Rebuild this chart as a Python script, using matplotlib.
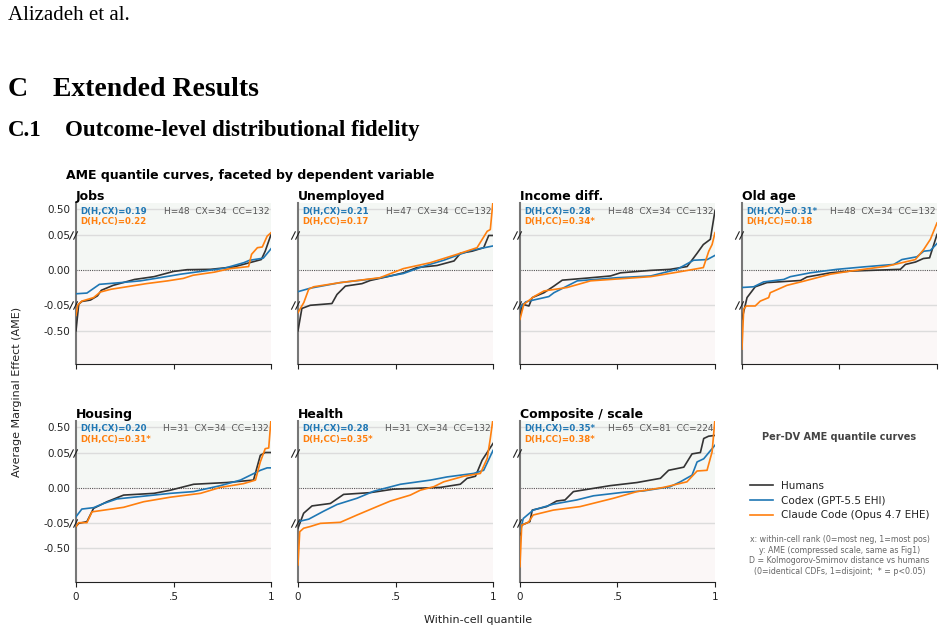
import numpy as np
import matplotlib
matplotlib.use("Agg")
import matplotlib.pyplot as plt
from matplotlib.path import Path
from matplotlib.lines import Line2D

# panel info
panels = ["Jobs", "Unemployed", "Income diff.", "Old age", "Housing", "Health", "Composite / scale"]
n_h = [48, 47, 48, 48, 31, 31, 65]
n_cx = [34, 34, 34, 34, 34, 34, 81]
n_cc = [132, 132, 132, 132, 132, 132, 224]
d_cx = ["0.19", "0.21", "0.28", "0.31*", "0.20", "0.28", "0.35*"]
d_cc = ["0.22", "0.17", "0.34*", "0.18", "0.31*", "0.35*", "0.38*"]

# quantile curves: (quantile, AME)
jobs_h = ([0, .014, .03, .074, .11, .13, .19, .30, .40, .50, .57, .69, .81, .89, .95, .97, 1],
          [-.5, -.049, -.045, -.043, -.037, -.029, -.022, -.0135, -.0095, -.002, .0005, .001, .0045, .0105, .015, .027, .062])
jobs_cx = ([0, .056, .12, .23, .33, .43, .535, .64, .76, .86, .89, .96, 1],
           [-.034, -.033, -.0205, -.018, -.0155, -.011, -.006, -.002, .0025, .0105, .014, .017, .0305])
jobs_cc = ([0, .009, .03, .09, .125, .18, .26, .36, .47, .55, .60, .71, .79, .885, .90, .93, .955, .98, 1],
           [-.232, -.052, -.0445, -.0395, -.0315, -.0275, -.024, -.0195, -.0155, -.012, -.0075, -.003, .002, .005, .0225, .032, .033, .0485, .093])

unemp_h = ([0, .02, .063, .174, .20, .243, .328, .37, .474, .54, .61, .713, .80, .833, .893, .952, .978, 1],
           [-.5, -.111, -.056, -.048, -.035, -.023, -.0195, -.015, -.0085, -.004, .0035, .0065, .013, .024, .027, .032, .0495, .0495])
unemp_cx = ([0, .063, .217, .405, .54, .645, .747, .884, 1],
            [-.031, -.026, -.018, -.012, -.005, .0055, .014, .028, .0345])
unemp_cc = ([0, .03, .055, .08, .217, .42, .54, .678, .815, .918, .97, .986, 1],
            [-.184, -.0465, -.0275, -.024, -.018, -.011, .002, .0105, .0225, .032, .117, .147, .65])

income_h = ([0, .012, .046, .063, .123, .174, .217, .345, .464, .515, .67, .77, .857, .908, .94, .976, 1],
            [-.269, -.049, -.068, -.0395, -.0325, -.023, -.0145, -.0115, -.0085, -.004, -.0005, .001, .005, .024, .0365, .044, .48])
income_cx = ([0, .03, .148, .174, .294, .498, .67, .805, .89, .96, 1],
             [-.099, -.0455, -.038, -.0325, -.0155, -.011, -.0085, .001, .014, .015, .021])
income_cc = ([0, .02, .072, .123, .242, .362, .67, .84, .94, .968, .985, 1],
             [-.30, -.049, -.038, -.030, -.025, -.0155, -.0095, -.0015, .0035, .027, .0365, .093])

oldage_h = ([0, .026, .068, .128, .30, .333, .453, .556, .812, .838, .89, .93, .962, 1],
            [-.30, -.0395, -.024, -.018, -.015, -.010, -.004, -.0015, .001, .008, .0115, .0165, .0175, .062])
oldage_cx = ([0, .06, .111, .214, .248, .35, .487, .624, .778, .82, .897, .932, .966, 1],
             [-.025, -.024, -.017, -.0135, -.0095, -.004, .001, .0045, .008, .015, .019, .027, .028, .038])
oldage_cc = ([0, .009, .022, .068, .094, .137, .145, .23, .316, .453, .556, .744, .889, .932, .966, 1],
             [-.82, -.123, -.068, -.068, -.0445, -.0395, -.0325, -.022, -.016, -.006, -.0015, .0055, .015, .0295, .044, .263])

housing_h = ([0, .014, .056, .09, .159, .244, .40, .484, .603, .774, .91, .945, .97, 1],
             [-.117, -.062, -.0485, -.0295, -.020, -.0105, -.008, -.0035, .005, .0075, .011, .0465, .056, .056])
housing_cx = ([0, .03, .09, .142, .21, .40, .484, .603, .74, .843, .945, .98, 1],
              [-.0415, -.0305, -.0285, -.0225, -.016, -.0105, -.008, -.0055, .003, .011, .025, .0285, .0285])
housing_cc = ([0, .014, .056, .082, .244, .347, .484, .638, .74, .86, .92, .945, .97, .988, 1],
              [-.117, -.050, -.050, -.0345, -.028, -.020, -.0135, -.008, .0005, .006, .011, .037, .123, .135, .65])

health_h = ([0, .029, .072, .166, .234, .37, .49, .73, .832, .867, .91, .944, 1],
            [-.147, -.0365, -.026, -.0225, -.0095, -.007, -.002, .0005, .005, .0135, .0165, .0395, .214])
health_cx = ([0, .055, .132, .20, .303, .388, .525, .68, .764, .90, .952, 1],
             [-.0485, -.045, -.0335, -.024, -.015, -.005, .005, .011, .0155, .0205, .025, .093])
health_cc = ([0, .009, .029, .063, .115, .217, .303, .405, .474, .576, .627, .696, .747, .85, .935, .97, .986, 1],
             [-.786, -.208, -.147, -.117, -.062, -.0495, -.039, -.027, -.019, -.0105, -.0035, .0015, .0085, .0165, .0205, .042, .30, .65])

comp_h = ([0, .009, .051, .063, .137, .188, .231, .274, .462, .60, .72, .762, .84, .882, .925, .942, .967, 1],
          [-.263, -.093, -.0485, -.032, -.027, -.019, -.0175, -.0055, .003, .0075, .0135, .025, .0295, .0485, .056, .30, .34, .354])
comp_cx = ([0, .017, .068, .171, .29, .377, .53, .634, .77, .822, .882, .908, .942, .967, 1],
           [-.208, -.044, -.032, -.0235, -.0175, -.0115, -.0065, -.0045, .0015, .0085, .018, .037, .0415, .05, .184])
comp_cc = ([0, .009, .043, .068, .171, .308, .394, .48, .60, .736, .856, .908, .959, .985, 1],
           [-.816, -.093, -.0495, -.039, -.032, -.027, -.021, -.015, -.0055, .0005, .0085, .024, .025, .068, .65])

curves = [(jobs_h, jobs_cx, jobs_cc), (unemp_h, unemp_cx, unemp_cc), (income_h, income_cx, income_cc),
          (oldage_h, oldage_cx, oldage_cc), (housing_h, housing_cx, housing_cc),
          (health_h, health_cx, health_cc), (comp_h, comp_cx, comp_cc)]

series_names = ["Humans", "Codex (GPT-5.5 EHI)", "Claude Code (Opus 4.7 EHE)"]
colors = ["#333333", "#1f77b4", "#ff7f0e"]

# compressed y scale: linear inside +-0.05, squeezed outside
K = 0.74 / 0.45


def fwd(y):
    y = np.asarray(y, dtype=float)
    a = np.abs(y)
    return np.where(a <= 0.05, y / 0.05, np.sign(y) * (1 + (a - 0.05) * K))


def inv(t):
    t = np.asarray(t, dtype=float)
    a = np.abs(t)
    return np.where(a <= 1, t * 0.05, np.sign(t) * (0.05 + (a - 1) / K))


yticks = [-0.5, -0.05, 0, 0.05, 0.5]
ylabels = ["-0.50", "-0.05", "0.00", "0.05", "0.50"]
ylo, yhi = float(inv(-2.70)), float(inv(1.92))

brk = Path([(-1, -1), (0, 1), (0, -1), (1, 1)],
           [Path.MOVETO, Path.LINETO, Path.MOVETO, Path.LINETO])

fig, axes = plt.subplots(2, 4, figsize=(9.44, 6.34), dpi=100, sharex=True, sharey=True)
fig.subplots_adjust(left=0.0805, right=0.9926, top=0.6798, bottom=0.082, wspace=0.138, hspace=0.35)

for i, ax in enumerate(axes.flat):
    if i == 7:
        continue
    ax.set_yscale("function", functions=(fwd, inv))
    ax.set_ylim(ylo, yhi)
    ax.set_xlim(0, 1)
    ax.axhspan(0, yhi, color="#f4f7f4", zorder=0, lw=0)
    ax.axhspan(ylo, 0, color="#fbf7f7", zorder=0, lw=0)
    for v in [-0.5, -0.05, 0.05, 0.5]:
        ax.axhline(v, color="#dcdcdc", lw=1.0, zorder=1)
    ax.axhline(0, color="#555555", lw=0.8, ls=(0, (1, 1)), zorder=2)
    for (q, ame), c in zip(curves[i], colors):
        ax.plot(q, ame, color=c, lw=1.2, zorder=3)
    ax.plot([-0.015, -0.015], [-0.05, 0.05], ls="none", marker=brk, ms=6, mec="#222222", mew=0.8,
            transform=ax.get_yaxis_transform(), clip_on=False, zorder=5)
    ax.set_title(panels[i], loc="left", fontsize=9, fontweight="bold", pad=2)
    ax.text(0.02, 0.95, "D(H,CX)=" + d_cx[i], transform=ax.transAxes, color=colors[1],
            fontsize=6.2, fontweight="bold", va="center", ha="left")
    ax.text(0.02, 0.883, "D(H,CC)=" + d_cc[i], transform=ax.transAxes, color=colors[2],
            fontsize=6.2, fontweight="bold", va="center", ha="left")
    ax.text(0.99, 0.95, f"H={n_h[i]}  CX={n_cx[i]}  CC={n_cc[i]}", transform=ax.transAxes,
            color="#555555", fontsize=6.5, va="center", ha="right")
    for s in ["top", "right"]:
        ax.spines[s].set_visible(False)
    ax.spines["left"].set_color("#777777")
    ax.spines["left"].set_linewidth(1.5)
    ax.spines["bottom"].set_color("#222222")
    ax.set_yticks(yticks)
    ax.set_yticklabels(ylabels)
    ax.minorticks_off()
    ax.set_xticks([0, 0.5, 1])
    ax.set_xticklabels(["0", ".5", "1"])
    ax.tick_params(axis="y", length=0, pad=4, labelsize=7.5, colors="#222222")
    ax.tick_params(axis="x", length=3.5, labelsize=7.5, colors="#222222")
    ax.label_outer()

# legend cell
lax = axes[1, 3]
lax.axis("off")
lax.text(0.5, 0.90, "Per-DV AME quantile curves", transform=lax.transAxes, ha="center", va="center",
         fontsize=7, fontweight="bold", color="#444444")
handles = [Line2D([], [], color=c, lw=1.2) for c in colors]
lax.legend(handles, series_names, loc="center", bbox_to_anchor=(0.5, 0.505), frameon=False,
           fontsize=7.5, handlelength=2.2, labelspacing=0.45, labelcolor="#222222")
lax.text(0.5, 0.165, "x: within-cell rank (0=most neg, 1=most pos)\n"
                     "y: AME (compressed scale, same as Fig1)\n"
                     "D = Kolmogorov-Smirnov distance vs humans\n"
                     "(0=identical CDFs, 1=disjoint;  * = p<0.05)",
         transform=lax.transAxes, ha="center", va="center", fontsize=5.7, color="#666666", linespacing=1.2)

fig.text(66 / 944, 1 - 175 / 634, "AME quantile curves, faceted by dependent variable",
         fontsize=9, fontweight="bold", va="center", ha="left")
fig.text(17 / 944, 1 - 392 / 634, "Average Marginal Effect (AME)", rotation=90, fontsize=8,
         va="center", ha="center", color="#222222")
fig.text(478 / 944, 1 - 620 / 634, "Within-cell quantile", fontsize=8, va="center", ha="center",
         color="#222222")

# page header text
serif = "Liberation Serif"
fig.text(8 / 944, 1 - 15 / 634, "Alizadeh et al.", family=serif, fontsize=15, va="center", ha="left")
fig.text(8 / 944, 1 - 90 / 634, "C", family=serif, fontsize=20, fontweight="bold", va="center", ha="left")
fig.text(53 / 944, 1 - 90 / 634, "Extended Results", family=serif, fontsize=20, fontweight="bold",
         va="center", ha="left")
fig.text(8 / 944, 1 - 130 / 634, "C.1", family=serif, fontsize=16.5, fontweight="bold", va="center", ha="left")
fig.text(65 / 944, 1 - 130 / 634, "Outcome-level distributional fidelity", family=serif, fontsize=16.5,
         fontweight="bold", va="center", ha="left")

fig.savefig("out.png", dpi=100)
